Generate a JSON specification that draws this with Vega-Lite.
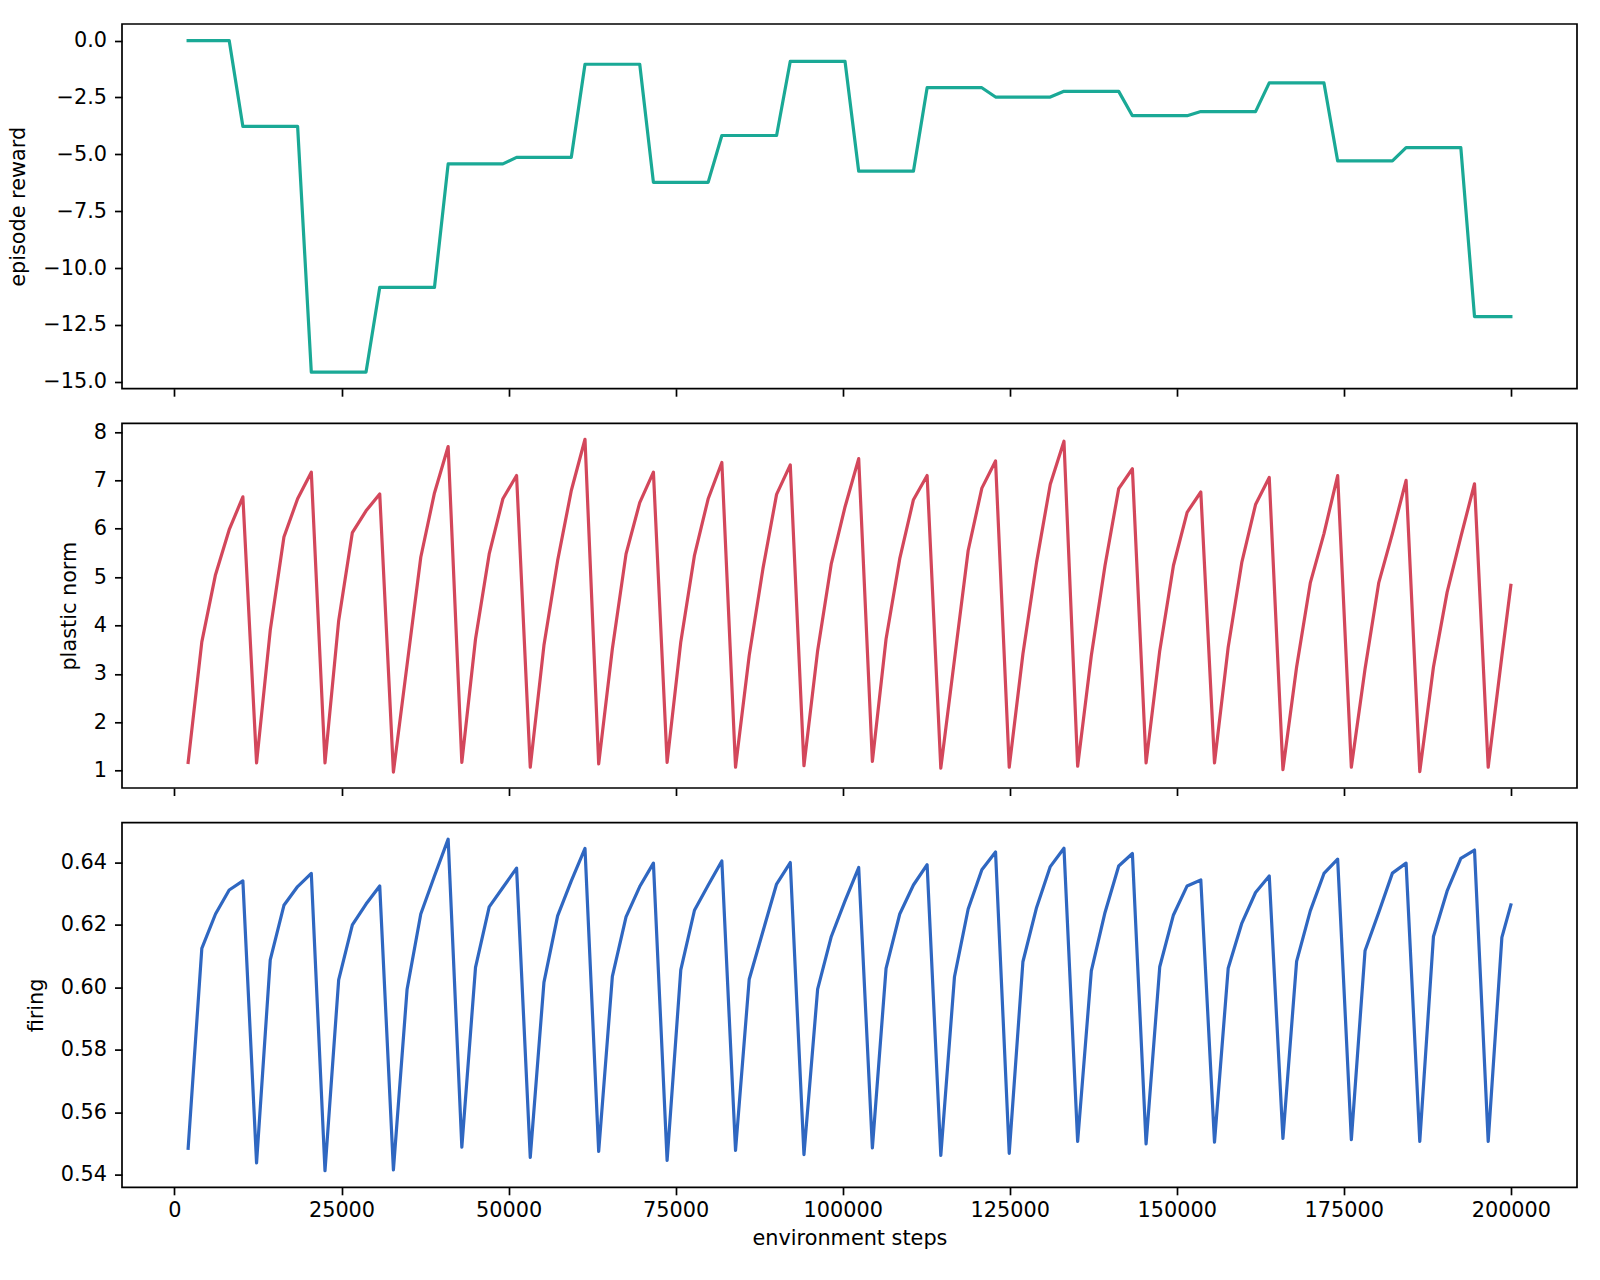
{
  "$schema": "https://vega.github.io/schema/vega-lite/v6.json",
  "description": "Episode reward, plastic norm and firing over environment steps",
  "background": "white",
  "padding": {"left": 6, "top": 23, "right": 5, "bottom": 5},
  "bounds": "flush",
  "spacing": 34.3,
  "config": {
    "view": {"stroke": "black", "strokeWidth": 1.7},
    "axis": {
      "domain": false,
      "grid": false,
      "ticks": true,
      "tickColor": "black",
      "tickSize": 7.5,
      "tickWidth": 1.7,
      "labelFont": "DejaVu Sans",
      "labelFontSize": 20.8,
      "labelColor": "black",
      "titleFont": "DejaVu Sans",
      "titleFontSize": 20.8,
      "titleFontWeight": "normal",
      "titleColor": "black",
      "labelFlush": false,
      "labelOverlap": false
    },
    "axisY": {"labelPadding": 8, "titlePadding": 14},
    "axisX": {"labelPadding": 6, "titlePadding": 8},
    "line": {"strokeWidth": 3.2, "strokeCap": "square", "strokeJoin": "round"}
  },
  "data": {
    "values": [
      {"step": 2048, "reward": 0, "plastic": 1.17, "firing": 0.5484},
      {"step": 4096, "reward": 0, "plastic": 3.66, "firing": 0.6125},
      {"step": 6144, "reward": 0, "plastic": 5.05, "firing": 0.6235},
      {"step": 8192, "reward": 0, "plastic": 5.98, "firing": 0.6312},
      {"step": 10240, "reward": -3.77, "plastic": 6.66, "firing": 0.6341},
      {"step": 12288, "reward": -3.77, "plastic": 1.16, "firing": 0.5437},
      {"step": 14336, "reward": -3.77, "plastic": 3.90, "firing": 0.6088},
      {"step": 16384, "reward": -3.77, "plastic": 5.83, "firing": 0.6263},
      {"step": 18432, "reward": -3.77, "plastic": 6.62, "firing": 0.6323},
      {"step": 20480, "reward": -14.57, "plastic": 7.17, "firing": 0.6365},
      {"step": 22528, "reward": -14.57, "plastic": 1.16, "firing": 0.5412},
      {"step": 24576, "reward": -14.57, "plastic": 4.10, "firing": 0.6024},
      {"step": 26624, "reward": -14.57, "plastic": 5.92, "firing": 0.6200},
      {"step": 28672, "reward": -14.57, "plastic": 6.37, "firing": 0.6267},
      {"step": 30720, "reward": -10.85, "plastic": 6.72, "firing": 0.6325},
      {"step": 32768, "reward": -10.85, "plastic": 0.97, "firing": 0.5415},
      {"step": 34816, "reward": -10.85, "plastic": 3.19, "firing": 0.5994},
      {"step": 36864, "reward": -10.85, "plastic": 5.41, "firing": 0.6235},
      {"step": 38912, "reward": -10.85, "plastic": 6.74, "firing": 0.6357},
      {"step": 40960, "reward": -5.42, "plastic": 7.70, "firing": 0.6475},
      {"step": 43008, "reward": -5.42, "plastic": 1.17, "firing": 0.5488},
      {"step": 45056, "reward": -5.42, "plastic": 3.72, "firing": 0.6064},
      {"step": 47104, "reward": -5.42, "plastic": 5.48, "firing": 0.6258},
      {"step": 49152, "reward": -5.42, "plastic": 6.62, "firing": 0.6320},
      {"step": 51200, "reward": -5.13, "plastic": 7.10, "firing": 0.6382},
      {"step": 53248, "reward": -5.13, "plastic": 1.07, "firing": 0.5455},
      {"step": 55296, "reward": -5.13, "plastic": 3.59, "firing": 0.6016},
      {"step": 57344, "reward": -5.13, "plastic": 5.34, "firing": 0.6229},
      {"step": 59392, "reward": -5.13, "plastic": 6.79, "firing": 0.6341},
      {"step": 61440, "reward": -1.04, "plastic": 7.85, "firing": 0.6445},
      {"step": 63488, "reward": -1.04, "plastic": 1.14, "firing": 0.5474},
      {"step": 65536, "reward": -1.04, "plastic": 3.52, "firing": 0.6035},
      {"step": 67584, "reward": -1.04, "plastic": 5.48, "firing": 0.6226},
      {"step": 69632, "reward": -1.04, "plastic": 6.54, "firing": 0.6323},
      {"step": 71680, "reward": -6.23, "plastic": 7.17, "firing": 0.6398},
      {"step": 73728, "reward": -6.23, "plastic": 1.17, "firing": 0.5445},
      {"step": 75776, "reward": -6.23, "plastic": 3.66, "firing": 0.6056},
      {"step": 77824, "reward": -6.23, "plastic": 5.45, "firing": 0.6247},
      {"step": 79872, "reward": -6.23, "plastic": 6.62, "firing": 0.6327},
      {"step": 81920, "reward": -4.17, "plastic": 7.37, "firing": 0.6405},
      {"step": 83968, "reward": -4.17, "plastic": 1.07, "firing": 0.5477},
      {"step": 86016, "reward": -4.17, "plastic": 3.38, "firing": 0.6026},
      {"step": 88064, "reward": -4.17, "plastic": 5.17, "firing": 0.6179},
      {"step": 90112, "reward": -4.17, "plastic": 6.71, "firing": 0.6331},
      {"step": 92160, "reward": -0.91, "plastic": 7.32, "firing": 0.6400},
      {"step": 94208, "reward": -0.91, "plastic": 1.10, "firing": 0.5464},
      {"step": 96256, "reward": -0.91, "plastic": 3.48, "firing": 0.5994},
      {"step": 98304, "reward": -0.91, "plastic": 5.28, "firing": 0.6163},
      {"step": 100352, "reward": -0.91, "plastic": 6.45, "firing": 0.6277},
      {"step": 102400, "reward": -5.74, "plastic": 7.45, "firing": 0.6384},
      {"step": 104448, "reward": -5.74, "plastic": 1.19, "firing": 0.5485},
      {"step": 106496, "reward": -5.74, "plastic": 3.72, "firing": 0.6061},
      {"step": 108544, "reward": -5.74, "plastic": 5.38, "firing": 0.6235},
      {"step": 110592, "reward": -5.74, "plastic": 6.60, "firing": 0.6328},
      {"step": 112640, "reward": -2.07, "plastic": 7.10, "firing": 0.6393},
      {"step": 114688, "reward": -2.07, "plastic": 1.05, "firing": 0.5461},
      {"step": 116736, "reward": -2.07, "plastic": 3.30, "firing": 0.6034},
      {"step": 118784, "reward": -2.07, "plastic": 5.55, "firing": 0.6251},
      {"step": 120832, "reward": -2.07, "plastic": 6.84, "firing": 0.6377},
      {"step": 122880, "reward": -2.48, "plastic": 7.40, "firing": 0.6434},
      {"step": 124928, "reward": -2.48, "plastic": 1.07, "firing": 0.5468},
      {"step": 126976, "reward": -2.48, "plastic": 3.41, "firing": 0.6082},
      {"step": 129024, "reward": -2.48, "plastic": 5.31, "firing": 0.6256},
      {"step": 131072, "reward": -2.48, "plastic": 6.92, "firing": 0.6387},
      {"step": 133120, "reward": -2.23, "plastic": 7.81, "firing": 0.6446},
      {"step": 135168, "reward": -2.23, "plastic": 1.09, "firing": 0.5506},
      {"step": 137216, "reward": -2.23, "plastic": 3.38, "firing": 0.6053},
      {"step": 139264, "reward": -2.23, "plastic": 5.24, "firing": 0.6240},
      {"step": 141312, "reward": -2.23, "plastic": 6.83, "firing": 0.6389},
      {"step": 143360, "reward": -3.30, "plastic": 7.24, "firing": 0.6429},
      {"step": 145408, "reward": -3.30, "plastic": 1.16, "firing": 0.5498},
      {"step": 147456, "reward": -3.30, "plastic": 3.48, "firing": 0.6066},
      {"step": 149504, "reward": -3.30, "plastic": 5.24, "firing": 0.6232},
      {"step": 151552, "reward": -3.30, "plastic": 6.34, "firing": 0.6325},
      {"step": 153600, "reward": -3.12, "plastic": 6.76, "firing": 0.6344},
      {"step": 155648, "reward": -3.12, "plastic": 1.16, "firing": 0.5504},
      {"step": 157696, "reward": -3.12, "plastic": 3.55, "firing": 0.6061},
      {"step": 159744, "reward": -3.12, "plastic": 5.31, "firing": 0.6206},
      {"step": 161792, "reward": -3.12, "plastic": 6.50, "firing": 0.6304},
      {"step": 163840, "reward": -1.86, "plastic": 7.06, "firing": 0.6357},
      {"step": 165888, "reward": -1.86, "plastic": 1.02, "firing": 0.5516},
      {"step": 167936, "reward": -1.86, "plastic": 3.14, "firing": 0.6083},
      {"step": 169984, "reward": -1.86, "plastic": 4.88, "firing": 0.6245},
      {"step": 172032, "reward": -1.86, "plastic": 5.90, "firing": 0.6365},
      {"step": 174080, "reward": -5.29, "plastic": 7.10, "firing": 0.6411},
      {"step": 176128, "reward": -5.29, "plastic": 1.07, "firing": 0.5512},
      {"step": 178176, "reward": -5.29, "plastic": 3.10, "firing": 0.6117},
      {"step": 180224, "reward": -5.29, "plastic": 4.88, "firing": 0.6240},
      {"step": 182272, "reward": -5.29, "plastic": 5.90, "firing": 0.6366},
      {"step": 184320, "reward": -4.70, "plastic": 7.00, "firing": 0.6398},
      {"step": 186368, "reward": -4.70, "plastic": 0.98, "firing": 0.5506},
      {"step": 188416, "reward": -4.70, "plastic": 3.14, "firing": 0.6163},
      {"step": 190464, "reward": -4.70, "plastic": 4.69, "firing": 0.6309},
      {"step": 192512, "reward": -4.70, "plastic": 5.83, "firing": 0.6413},
      {"step": 194560, "reward": -12.13, "plastic": 6.93, "firing": 0.6440},
      {"step": 196608, "reward": -12.13, "plastic": 1.07, "firing": 0.5506},
      {"step": 198656, "reward": -12.13, "plastic": 3.37, "firing": 0.6160},
      {"step": 200000, "reward": -12.13, "plastic": 4.83, "firing": 0.6264}
    ]
  },
  "vconcat": [
    {
      "width": 1455,
      "height": 364.7,
      "mark": {"type": "line", "color": "#1aa996"},
      "encoding": {
        "x": {
          "field": "step",
          "type": "quantitative",
          "scale": {"domain": [-7850, 209898], "nice": false, "zero": false},
          "axis": {"values": [0, 25000, 50000, 75000, 100000, 125000, 150000, 175000, 200000], "labels": false, "title": null}
        },
        "y": {
          "field": "reward",
          "type": "quantitative",
          "scale": {"domain": [-15.30, 0.73], "nice": false, "zero": false},
          "axis": {"values": [-15, -12.5, -10, -7.5, -5, -2.5, 0], "format": ".1f", "title": "episode reward"}
        }
      }
    },
    {
      "width": 1455,
      "height": 364.7,
      "mark": {"type": "line", "color": "#d3475b"},
      "encoding": {
        "x": {
          "field": "step",
          "type": "quantitative",
          "scale": {"domain": [-7850, 209898], "nice": false, "zero": false},
          "axis": {"values": [0, 25000, 50000, 75000, 100000, 125000, 150000, 175000, 200000], "labels": false, "title": null}
        },
        "y": {
          "field": "plastic",
          "type": "quantitative",
          "scale": {"domain": [0.64, 8.18], "nice": false, "zero": false},
          "axis": {"values": [1, 2, 3, 4, 5, 6, 7, 8], "format": "d", "title": "plastic norm"}
        }
      }
    },
    {
      "width": 1455,
      "height": 364.7,
      "mark": {"type": "line", "color": "#2f67c1"},
      "encoding": {
        "x": {
          "field": "step",
          "type": "quantitative",
          "scale": {"domain": [-7850, 209898], "nice": false, "zero": false},
          "axis": {"values": [0, 25000, 50000, 75000, 100000, 125000, 150000, 175000, 200000], "format": "d", "title": "environment steps"}
        },
        "y": {
          "field": "firing",
          "type": "quantitative",
          "scale": {"domain": [0.5359, 0.6528], "nice": false, "zero": false},
          "axis": {"values": [0.54, 0.56, 0.58, 0.6, 0.62, 0.64], "format": ".2f", "title": "firing"}
        }
      }
    }
  ]
}
